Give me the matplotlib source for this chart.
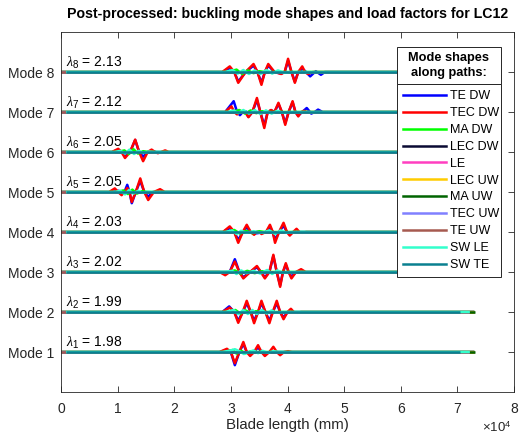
import numpy as np
import matplotlib.pyplot as plt
from matplotlib.lines import Line2D
from matplotlib.patches import Rectangle
from matplotlib.ticker import FuncFormatter

plt.rcParams['font.family'] = ['Liberation Sans', 'DejaVu Sans']
plt.rcParams['mathtext.fontset'] = 'custom'
plt.rcParams['mathtext.rm'] = 'Liberation Sans'
plt.rcParams['mathtext.it'] = 'Liberation Serif:italic'

# buckling load factors, mode 1..8
load_factors = [1.98, 1.99, 2.02, 2.03, 2.05, 2.05, 2.12, 2.13]

path_names = ["TE DW", "TEC DW", "MA DW", "LEC DW", "LE", "LEC UW",
              "MA UW", "TEC UW", "TE UW", "SW LE", "SW TE"]
path_colors = ["#0000ff", "#ff0000", "#00ff00", "#0a0a33", "#ff3fc0", "#ffcc00",
               "#006400", "#8080ff", "#a65a50", "#33ffcc", "#0a8090"]
# extent of each path along the blade (mm)
path_start = [0, 0, 0, 0, 0, 0, 0, 0, 0, 900, 900]
path_end = [73000, 73000, 73000, 73000, 73000, 73000, 73100, 72000, 72000, 72200, 70400]

# TEC DW (red) mode shapes: blade position (mm) and displacement, per mode
tec_dw_x = [
    [28000, 29300, 30000, 30700, 31500, 32200, 32800, 33400, 34100, 34800, 35400, 36000, 36800, 37500, 38100, 38700, 39400, 40100, 40800],
    [28500, 29800, 30600, 31300, 32100, 32800, 33500, 34100, 34800, 35400, 36100, 36800, 37400, 38100, 38700, 39300, 40000, 40600, 41100, 41700, 42400],
    [28000, 29000, 29800, 30700, 31500, 32200, 33400, 34600, 35300, 36000, 36800, 37500, 38100, 38700, 39200, 39700, 40200, 40700, 41500, 42400, 43200],
    [28600, 29800, 30600, 31300, 32100, 32800, 33500, 34100, 34500, 34800, 35100, 35400, 36200, 36900, 37400, 37800, 38500, 39300, 39900, 40400, 41000, 41600, 42100, 42600, 43300],
    [8500, 9500, 10100, 10700, 11200, 11700, 12100, 12500, 13200, 14000, 14700, 15400, 16400, 17500, 18300],
    [9000, 10100, 10700, 11300, 12200, 13100, 13800, 14500, 15300, 16000, 16600, 17100, 17700, 18400, 19000],
    [29000, 30100, 30600, 31100, 31500, 32000, 32500, 33100, 33800, 34600, 35200, 35900, 36500, 37100, 37700, 38400, 39000, 39600, 40200, 40900, 41400, 41900, 42400, 42900, 43500],
    [28500, 29800, 30600, 31300, 32600, 34000, 34700, 35400, 36000, 36600, 37700, 38900, 39500, 40100, 40700, 41300, 41900, 42600, 43100, 43600, 44500],
]
tec_dw_y = [
    [0, 0.08, 0, -0.28, 0, 0.25, 0, -0.10, 0, 0.17, 0, -0.10, 0, 0.13, 0, -0.08, 0, 0.02, 0],
    [0, 0.11, 0, -0.27, 0, 0.28, 0, -0.28, 0, 0.28, 0, -0.28, 0, 0.28, 0, -0.18, 0, 0.08, 0, -0.02, 0],
    [0, -0.08, 0, 0.26, 0, -0.16, 0, 0.15, 0, -0.16, 0, 0.43, 0, -0.37, 0, 0.22, 0, -0.16, 0, 0.07, 0],
    [0, 0.14, 0, -0.27, 0, 0.18, 0, -0.07, 0, 0.01, 0, -0.05, 0, 0.18, 0, -0.27, 0, 0.23, 0, -0.09, 0, 0.08, 0, -0.02, 0],
    [0, 0.09, 0, -0.08, 0, 0.10, 0, -0.25, 0, 0.34, 0, -0.20, 0, 0.07, 0],
    [0, 0.08, 0, -0.15, 0, 0.31, 0, -0.23, 0, 0.06, 0, -0.03, 0, 0.04, 0],
    [0, 0.14, 0, -0.06, 0, 0.02, 0, -0.13, 0, 0.35, 0, -0.40, 0, 0.05, 0, 0.23, 0, -0.32, 0, 0.27, 0, -0.11, 0, 0.03, 0],
    [0, 0.14, 0, -0.27, 0, 0.20, 0, -0.32, 0, 0.20, 0, -0.05, 0, 0.33, 0, -0.27, 0, 0.14, 0, -0.05, 0],
]

# TE DW (blue) mode shapes
te_dw_x = [
    [28000, 29300, 30000, 30700, 31500, 32200, 32800, 33400, 34100, 34800, 35400, 36000, 36800],
    [28500, 29700, 30600, 31300, 32100, 32800, 33500, 34100, 34800, 35400, 36100, 36800, 37400, 38100, 38700, 39300, 40000],
    [29000, 29800, 30700, 31500, 32200, 33400, 34600, 35300, 36000, 36800, 37500, 38100, 38700, 39200, 39700, 40200, 40700, 41500],
    [28600, 29800, 30600, 31300, 32100, 32800, 33500, 34100, 36200, 36900, 37400, 37800, 38500, 39300, 39900, 40400, 41000],
    [9000, 10200, 10800, 11200, 11700, 12100, 12500, 13200, 14000, 14700, 15400, 16200],
    [9000, 10100, 10700, 11300, 12200, 13100, 13800, 14500, 15300, 16000, 16800],
    [29000, 30500, 31100, 31600, 32100, 32600, 33100, 33800, 34600, 35200, 35900, 36500, 37100, 37700, 38400, 39000, 39600, 40200, 40900, 41400, 41900, 42600, 43400, 44200, 44800, 45400, 46200],
    [28500, 29800, 30600, 31300, 32600, 34000, 34700, 35400, 36000, 36600, 37700, 38900, 39500, 40100, 40700, 41300, 41900, 42600, 43300, 44000, 45000, 45900, 46600],
]
te_dw_y = [
    [0, 0.05, 0, -0.33, 0, 0.20, 0, -0.07, 0, 0.12, 0, -0.06, 0],
    [0, 0.14, 0, -0.22, 0, 0.22, 0, -0.22, 0, 0.22, 0, -0.22, 0, 0.22, 0, -0.14, 0],
    [0, 0, 0.32, 0, -0.13, 0, 0.12, 0, -0.13, 0, 0.40, 0, -0.33, 0, 0.18, 0, -0.12, 0],
    [0, 0.10, 0, -0.20, 0, 0.12, 0, -0.04, 0, 0.12, 0, -0.20, 0, 0.16, 0, -0.06, 0],
    [0, 0.03, -0.04, 0, 0.18, 0, -0.28, 0, 0.28, 0, -0.12, 0],
    [0, 0.05, 0, -0.10, 0, 0.30, 0, -0.12, 0, 0.03, 0],
    [0, 0.27, 0, -0.08, 0, 0.02, -0.12, 0, 0.30, 0, -0.34, 0, 0.04, 0, 0.20, 0, -0.28, 0, 0.24, 0, -0.09, 0, 0.10, -0.04, 0, 0.06, 0],
    [0, 0.10, 0, -0.24, 0, 0.16, 0, -0.27, 0, 0.16, 0, -0.04, 0, 0.28, 0, -0.24, 0, 0.08, 0, -0.11, 0.02, -0.07, 0],
]

# SW LE (cyan) small wiggles
sw_le_x = [
    [28500, 30000, 30700, 31500, 32300, 33200, 34000, 34800, 35600, 36500, 37500, 38500],
    [29000, 30500, 31300, 32200, 33000, 33800, 34600, 35500, 36300, 37200, 38000, 39000],
    [29000, 30200, 31000, 31800, 32800, 34000, 35200, 36400, 37300, 38200, 39200, 40300],
    [29000, 30200, 31000, 31800, 32800, 34000, 35500, 36800, 37800, 38800, 39800, 40800],
    [9500, 10500, 11300, 12000, 12800, 13600, 14500, 15300, 16200],
    [9500, 10500, 11300, 12100, 12900, 13700, 14600, 15500, 16500],
    [29500, 30500, 31300, 32200, 33200, 34200, 35200, 36200, 37200, 38200, 39200, 40500],
    [29000, 30300, 31200, 32200, 33200, 34200, 35200, 36300, 37300, 38300, 39500, 40800],
]
sw_le_y = [
    [0, 0.04, 0.07, 0.02, -0.05, 0, 0.04, -0.03, 0.03, -0.02, 0.02, 0],
    [0, 0.05, -0.05, 0.05, -0.05, 0.05, -0.05, 0.05, -0.04, 0.04, -0.02, 0],
    [0, 0.03, -0.05, 0.04, -0.03, 0.03, -0.04, 0.05, -0.05, 0.04, -0.02, 0],
    [0, 0.04, -0.05, 0.03, -0.02, 0.02, -0.02, 0.04, -0.05, 0.04, -0.02, 0],
    [0, 0.03, -0.06, 0.05, -0.04, 0.03, -0.02, 0.01, 0],
    [0, 0.03, -0.04, 0.06, -0.05, 0.03, -0.02, 0.01, 0],
    [0, 0.04, -0.03, 0.05, -0.04, 0.05, -0.05, 0.04, -0.04, 0.03, -0.02, 0],
    [0, 0.05, -0.04, 0.05, -0.05, 0.04, -0.05, 0.05, -0.04, 0.04, -0.02, 0],
]

# MA DW (green) small wiggles
ma_dw_x = [
    [29000, 30300, 31000, 31800, 32600, 33500, 34500],
    [29500, 30800, 31700, 32600, 33500, 34400, 35300],
    [29500, 30700, 31700, 32900, 34200, 35500, 36500],
    [29500, 30600, 31600, 32700, 33800, 35000, 36000],
    [10000, 11000, 11800, 12600, 13400, 14300, 15300],
    [10000, 11200, 12000, 12800, 13600, 14500, 15500],
    [30000, 31500, 32500, 33500, 34500, 35500, 36500],
    [29500, 31000, 32000, 33000, 34000, 35000, 36000],
]
ma_dw_y = [
    [0, 0.05, -0.04, 0.03, -0.03, 0.02, 0],
    [0, 0.05, -0.04, 0.04, -0.03, 0.02, 0],
    [0, 0.04, -0.04, 0.03, -0.03, 0.02, 0],
    [0, 0.05, -0.04, 0.03, -0.03, 0.02, 0],
    [0, 0.04, -0.05, 0.06, -0.04, 0.02, 0],
    [0, 0.04, -0.05, 0.07, -0.04, 0.02, 0],
    [0, 0.05, -0.04, 0.04, -0.03, 0.02, 0],
    [0, 0.06, -0.05, 0.04, -0.03, 0.02, 0],
]

wiggles = {"TE DW": (te_dw_x, te_dw_y), "TEC DW": (tec_dw_x, tec_dw_y),
           "MA DW": (ma_dw_x, ma_dw_y), "SW LE": (sw_le_x, sw_le_y)}


def path_curve(k, m):
    name = path_names[k]
    xs = [path_start[k]]
    ys = [0.0]
    if name in wiggles:
        wx, wy = wiggles[name]
        xs += wx[m]
        ys += wy[m]
    xs.append(path_end[k])
    ys.append(0.0)
    return np.array(xs, dtype=float), np.array(ys, dtype=float)


W, H = 522, 437
fig = plt.figure(figsize=(W / 100, H / 100), dpi=100)
ax = fig.add_axes([61 / W, 1 - 392 / H, 453 / W, 360 / H])

n_modes = len(load_factors)
handles = []
for k, name in enumerate(path_names):
    for m in range(n_modes):
        x, y = path_curve(k, m)
        ax.plot(x, m + 1 + y, color=path_colors[k], lw=1.8,
                solid_capstyle='butt', solid_joinstyle='round')
    handles.append(Line2D([], [], color=path_colors[k], lw=1.8))

for m, lf in enumerate(load_factors):
    ax.text(800, m + 1 + 0.13, r"$\lambda_{%d}$" % (m + 1) + " = %.2f" % lf,
            fontsize=10, va='baseline', ha='left')

ax.set_xlim(0, 80000)
ax.set_ylim(0, 9)
ax.set_yticks(range(1, n_modes + 1))
ax.set_yticklabels(["Mode %d" % (m + 1) for m in range(n_modes)])
ax.set_xticks(np.arange(0, 80001, 10000))
ax.xaxis.set_major_formatter(FuncFormatter(lambda v, p: "%g" % (v / 1e4)))
ax.tick_params(direction='in', top=True, right=True, length=4, width=0.6,
               labelsize=10, color='#262626', labelcolor='#262626')
ax.tick_params(axis='x', pad=7)
ax.tick_params(axis='y', pad=5)
for s in ax.spines.values():
    s.set_linewidth(0.6)
    s.set_color('#262626')
ax.set_xlabel("Blade length (mm)", fontsize=10.8, color='#262626', labelpad=2)
ax.set_title("Post-processed: buckling mode shapes and load factors for LC12",
             fontsize=10.2, fontweight='bold', pad=10)
fig.text(497 / W, 1 - 428 / H, r"$\times$10$^{4}$", fontsize=9.5, color='#262626',
         ha='center', va='center')

# legend entries box (x from 397 to 501 px, top at 84 px)
ax_l = (397 - 61) / 453
ax_w = (501 - 397) / 453
ax_t = 1 - (84 - 32) / 360
leg = ax.legend(handles, path_names, loc='upper left',
                bbox_to_anchor=(ax_l, ax_t - 0.6, ax_w, 0.6), mode='expand',
                fontsize=9, fancybox=False, framealpha=1, edgecolor='#262626',
                handlelength=3.4, handletextpad=0.35, labelspacing=0.39,
                borderpad=0.5, borderaxespad=0)
leg.get_frame().set_linewidth(0.7)

# title box of the legend, stacked on top of the entries box
fig.canvas.draw()
r = fig.canvas.get_renderer()
lb = leg.get_window_extent(r)
inv = fig.transFigure.inverted()
(x0, y0) = inv.transform((lb.x0, lb.y1))
(x1, _) = inv.transform((lb.x1, lb.y1))
y_top = 1 - 47 / H
fig.add_artist(Rectangle((x0, y0), x1 - x0, y_top - y0, transform=fig.transFigure,
                         facecolor='white', edgecolor='#262626', lw=0.7, zorder=10))
fig.text((x0 + x1) / 2, (y0 + y_top) / 2, "Mode shapes\nalong paths:",
         fontsize=9.2, fontweight='bold', ha='center', va='center',
         linespacing=1.35, zorder=11)

fig.savefig("out.png", dpi=100)
